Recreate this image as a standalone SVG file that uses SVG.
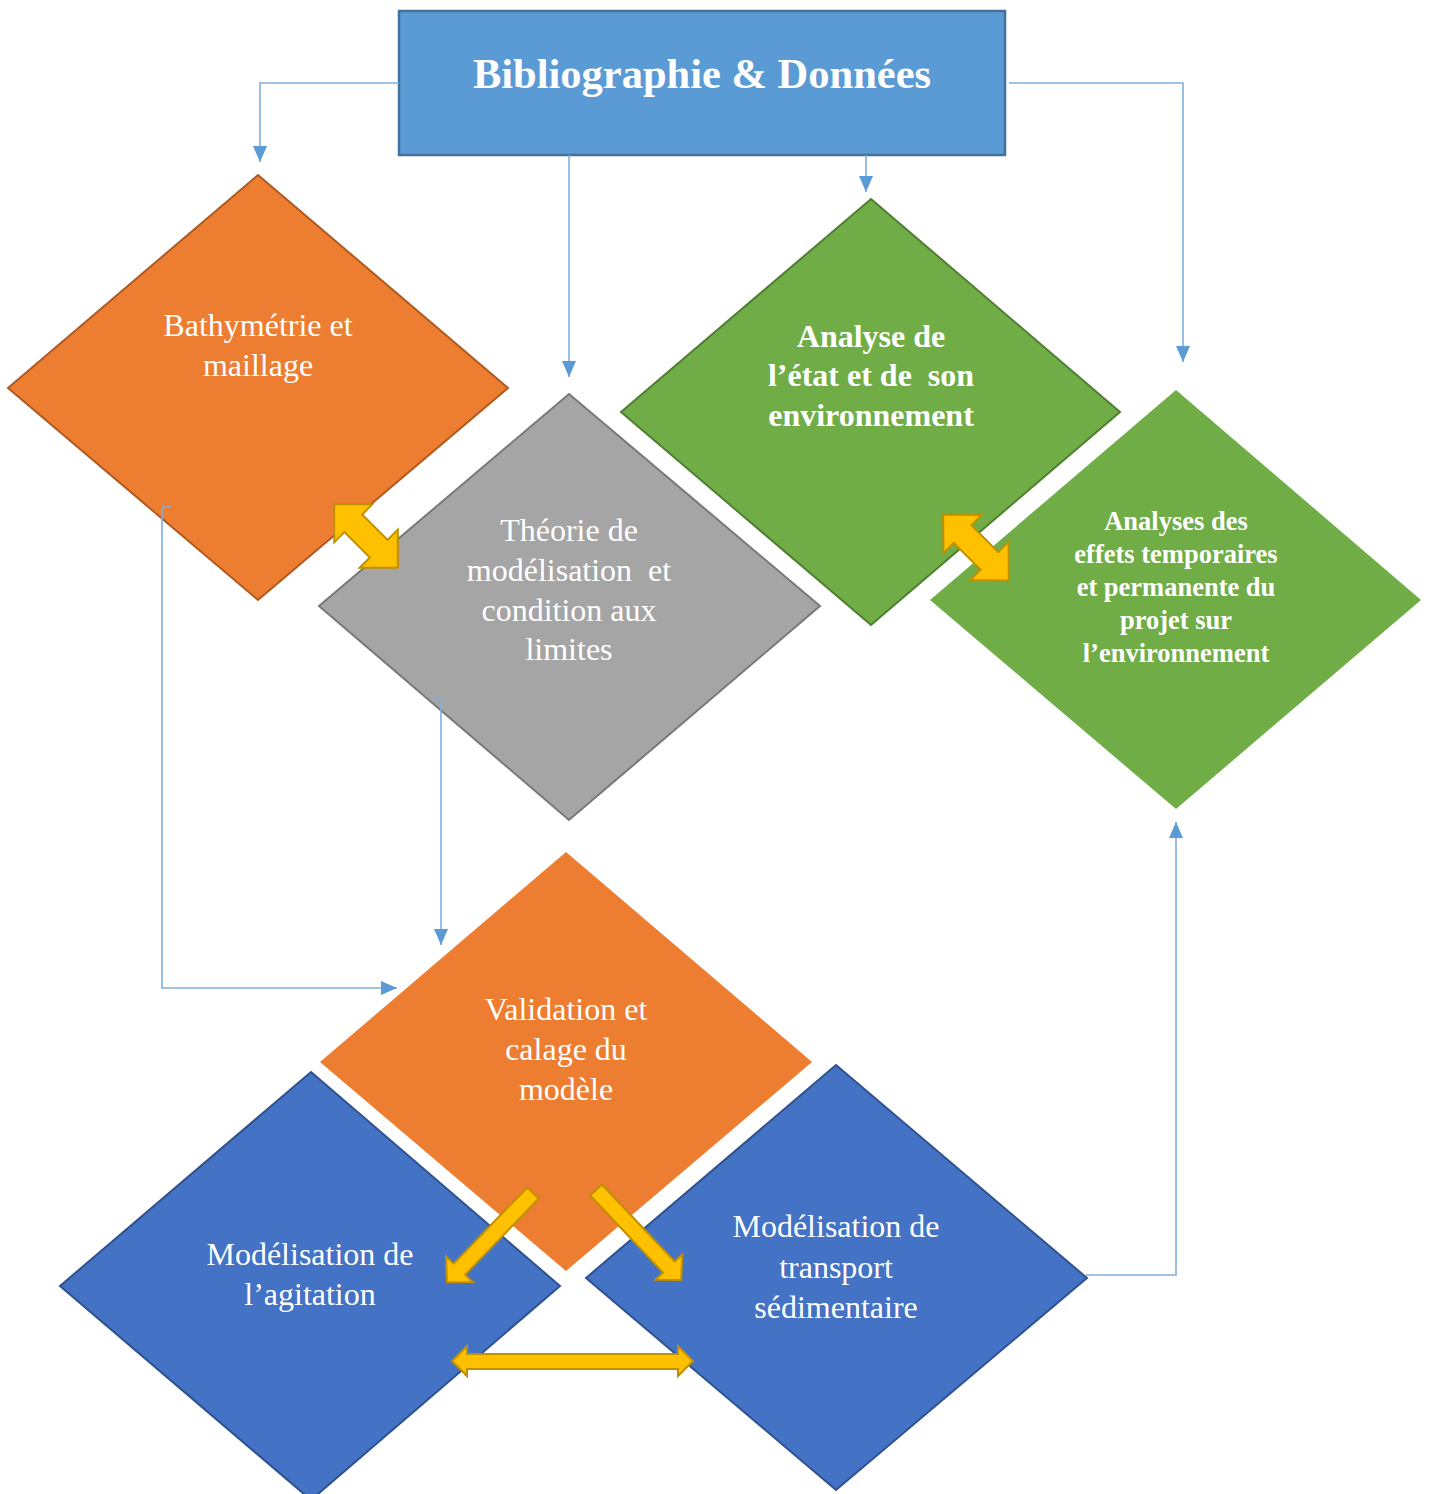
<svg xmlns="http://www.w3.org/2000/svg" width="1429" height="1494" viewBox="0 0 1429 1494">
  <defs>
    <style>
      .lbl { font-family: "Liberation Serif", "Times New Roman", serif; fill: #FFFFFF; text-anchor: middle; font-size: 32px; }
      .bold { font-weight: bold; }
      .small { font-size: 26.5px; }
      .title { font-size: 42.5px; }
      .conn { fill: none; stroke: #7FAEDD; stroke-width: 1.6; }
      .orange { fill: #ED7D31; stroke: #AE5A21; stroke-width: 2; }
      .gray { fill: #A5A5A5; stroke: #787878; stroke-width: 2; }
      .green { fill: #70AD47; stroke: #507E32; stroke-width: 2; }
      .blue { fill: #4472C4; stroke: #2F528F; stroke-width: 2; }
      .yarrow { fill: #FFC000; stroke: #BF9000; stroke-width: 2; stroke-linejoin: miter; }
    </style>
    <marker id="tri" markerUnits="userSpaceOnUse" markerWidth="16" markerHeight="14" refX="16" refY="7" orient="auto">
      <path d="M0,0 L16,7 L0,14 z" fill="#5B9BD5"/>
    </marker>
  </defs>

  <rect width="1429" height="1494" fill="#FFFFFF"/>

  <!-- header -->
  <g id="biblio">
    <rect x="399" y="11" width="606" height="144" fill="#5B9BD5" stroke="#41719C" stroke-width="2.5"/>
    <text class="lbl bold title" x="702" y="88">Bibliographie &amp; Données</text>
  </g>

  <g id="bathymetrie">
    <polygon class="orange" points="258,175 508,388 258,600 8,388"/>
    <text class="lbl" x="258" y="336">Bathymétrie et</text>
    <text class="lbl" x="258" y="376">maillage</text>
  </g>

  <g id="theorie">
    <polygon class="gray" points="569,394 820,606 569,820 319,606"/>
    <text class="lbl" x="569" y="541">Théorie de</text>
    <text class="lbl" x="569" y="581" xml:space="preserve">modélisation  et</text>
    <text class="lbl" x="569" y="621">condition aux</text>
    <text class="lbl" x="569" y="660">limites</text>
  </g>

  <g id="analyse-etat">
    <polygon class="green" points="871,199 1120,412 871,625 621,412"/>
    <text class="lbl bold" x="871" y="347">Analyse de</text>
    <text class="lbl bold" x="871" y="386" xml:space="preserve">l’état et de  son</text>
    <text class="lbl bold" x="871" y="426">environnement</text>
  </g>

  <g id="analyses-effets">
    <polygon class="green" points="1176,390 1421,600 1176,809 930,600" style="stroke:none"/>
    <text class="lbl bold small" x="1176" y="530">Analyses des</text>
    <text class="lbl bold small" x="1176" y="563">effets temporaires</text>
    <text class="lbl bold small" x="1176" y="596">et permanente du</text>
    <text class="lbl bold small" x="1176" y="629">projet sur</text>
    <text class="lbl bold small" x="1176" y="662">l’environnement</text>
  </g>

  <g id="validation">
    <polygon class="orange" points="566,852 812,1062 566,1271 320,1062" style="stroke:none"/>
    <text class="lbl" x="566" y="1020">Validation et</text>
    <text class="lbl" x="566" y="1060">calage du</text>
    <text class="lbl" x="566" y="1100">modèle</text>
  </g>

  <g id="agitation">
    <polygon class="blue" points="311,1072 560,1286 311,1500 60,1286"/>
    <text class="lbl" x="310" y="1265">Modélisation de</text>
    <text class="lbl" x="310" y="1305">l’agitation</text>
  </g>

  <g id="transport">
    <polygon class="blue" points="836,1065 1087,1278 836,1490 586,1278"/>
    <text class="lbl" x="836" y="1237">Modélisation de</text>
    <text class="lbl" x="836" y="1278">transport</text>
    <text class="lbl" x="836" y="1318">sédimentaire</text>
  </g>

  <!-- connectors, drawn over the shapes -->
  <g id="connectors">
    <path class="conn" d="M399,83 H260 V162" marker-end="url(#tri)"/>
    <path class="conn" d="M569,155 V377" marker-end="url(#tri)"/>
    <path class="conn" d="M866,155 V192" marker-end="url(#tri)"/>
    <path class="conn" d="M1009,83 H1183 V362" marker-end="url(#tri)"/>
    <path class="conn" d="M171,507 H162 V988 H397" marker-end="url(#tri)"/>
    <path class="conn" d="M433,699 H441 V945" marker-end="url(#tri)"/>
    <path class="conn" d="M1086,1275 H1176 V822" marker-end="url(#tri)"/>
  </g>

  <!-- block arrows between steps -->
  <g id="block-arrows">
    <polygon class="yarrow" transform="translate(366,536) rotate(45)" points="-45,0 -18,-27 -18,-12.5 18,-12.5 18,-27 45,0 18,27 18,12.5 -18,12.5 -18,27"/>
    <polygon class="yarrow" transform="translate(976,547.5) rotate(45)" points="-46.5,0 -19,-27 -19,-12.5 19,-12.5 19,-27 46.5,0 19,27 19,12.5 -19,12.5 -19,27"/>
    <polygon class="yarrow" transform="translate(533,1193) rotate(134)" points="0,-8 106,-8 106,-18.5 124,0 106,18.5 106,8 0,8"/>
    <polygon class="yarrow" transform="translate(596,1190) rotate(46.6)" points="0,-8 106,-8 106,-18.5 124,0 106,18.5 106,8 0,8"/>
    <polygon class="yarrow" points="452,1361 467,1346 467,1354 678,1354 678,1346 693,1361 678,1376 678,1369 467,1369 467,1376"/>
  </g>
</svg>
